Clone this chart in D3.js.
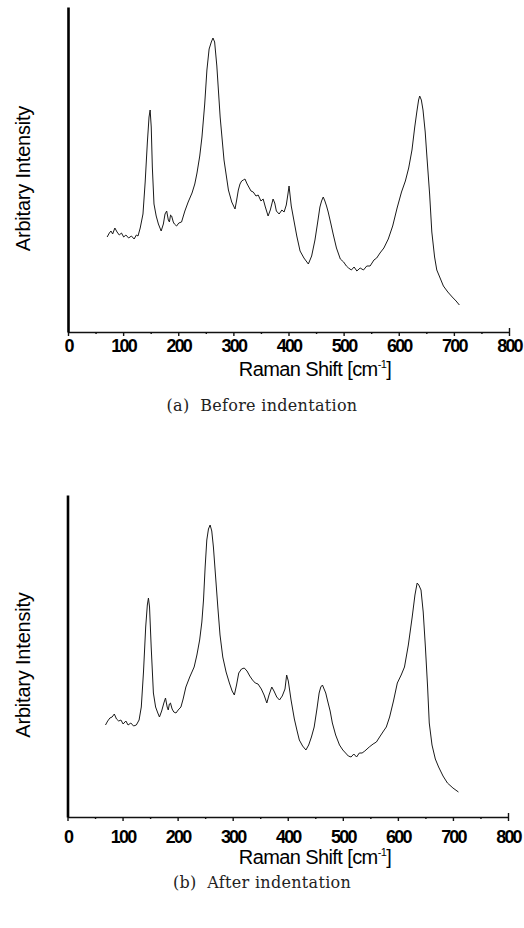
<!DOCTYPE html>
<html>
<head>
<meta charset="utf-8">
<script src="https://cdn.jsdelivr.net/npm/d3@7"></script>
<style>
  body { margin: 0; background: #fff; }
  svg { display: block; }
  .tick text { font-family: "Liberation Sans", Arial, sans-serif; }
</style>
</head>
<body>
<svg id="chart" width="524" height="928"></svg>
<script>
// Raman spectrum before indentation (shift in cm-1, arbitrary intensity)
const shiftA = [71,75,78,81,85,89,93,97,101,105,110,115,120,124,127,131,136,140,144,147,149,151,153,156,160,164,169,173,176,179,182,184,186,188,191,193,197,201,206,212,218,225,230,234,239,243,248,252,256,260,263,266,270,276,283,291,297,303,306,309,312,315,318,321,325,328,332,336,341,345,350,354,358,363,367,372,375,378,383,388,392,396,399,401,403,405,409,415,421,428,436,442,448,453,457,460,463,466,469,472,477,481,487,494,500,505,509,514,519,524,530,536,542,548,555,560,566,573,581,589,597,605,612,618,624,629,633,636,638,641,644,648,651,656,660,665,669,675,681,689,697,704,710]
const intensityA = [95,99,101,98,104,100,97,99,95,97,94,96,93,97,96,104,118,150,190,215,222,205,165,128,116,108,101,108,118,121,112,110,117,116,110,108,106,109,110,121,130,139,148,159,176,195,228,262,283,290,294,290,266,215,172,142,130,123,132,142,148,151,152,153,148,145,141,140,136,137,131,133,125,116,122,133,129,121,118,122,120,127,138,146,136,126,114,96,81,74,68,76,92,110,125,131,135,131,126,120,108,98,84,73,70,66,64,62,65,61,64,62,66,66,72,74,79,84,93,106,124,140,151,164,182,205,221,232,236,232,222,200,176,138,100,75,62,54,46,40,35,31,27]

// after indentation
const shiftB = [69,73,77,81,85,89,93,97,101,106,110,115,120,125,130,134,138,142,145,147,149,152,156,160,164,167,171,175,178,181,183,185,187,190,193,197,201,206,210,215,222,230,235,240,244,247,250,253,256,259,262,265,269,273,277,282,288,294,299,303,307,311,316,321,326,331,336,341,346,352,357,362,366,371,375,380,385,390,395,398,401,406,412,417,421,427,433,438,443,448,453,457,460,463,466,469,472,477,481,487,494,500,505,510,515,520,525,530,535,540,548,555,561,568,574,579,585,592,599,606,612,619,626,631,635,638,642,646,650,654,657,662,668,674,682,690,700,710]
const intensityB = [92,96,99,100,103,98,96,97,93,96,92,94,91,92,97,110,145,190,212,219,210,170,124,110,104,100,106,114,119,110,107,113,114,108,105,104,107,110,118,130,140,150,162,177,195,217,250,277,288,292,286,270,240,210,182,160,145,134,126,122,132,144,148,149,146,141,137,134,133,128,122,114,122,130,126,120,117,121,128,142,136,117,98,86,77,71,67,72,80,90,108,124,130,132,128,124,117,106,94,82,72,67,64,61,60,63,60,64,64,66,70,73,75,81,86,90,100,116,134,142,150,172,200,222,234,232,227,205,170,130,94,72,58,50,41,34,29,25]

const xTicks = [0,100,200,300,400,500,600,700,800]
const xMinorTicks = [50,150,250,350,450,550,650,750]
const captions = ["(a)  Before indentation", "(b)  After indentation"]
const xTitle = "Raman Shift [cm"
const yTitle = "Arbitary Intensity"

const svg = d3.select("#chart")

const panels = [
  {shift: shiftA, inten: intensityA, axisY: 332, topY: 7, x0: 68, x1: 509, labelY: 352, titleY: 376, capY: 411, caption: captions[0]},
  {shift: shiftB, inten: intensityB, axisY: 817, topY: 495, x0: 67.5, x1: 508, labelY: 843, titleY: 864, capY: 888, caption: captions[1]}
]

panels.forEach(p => {
  const x = d3.scaleLinear().domain([0, 800]).range([p.x0, p.x1])
  const y = d3.scaleLinear().domain([0, p.axisY - p.topY]).range([p.axisY, p.topY])

  const g = svg.append("g")

  // x axis with major + minor ticks
  const xa = g.append("g")
      .attr("transform", `translate(0,${p.axisY})`)
      .call(d3.axisBottom(x).tickValues(xTicks).tickSize(4).tickSizeOuter(0).tickPadding(3))
  xa.select(".domain").attr("stroke", "#111").attr("stroke-width", 1.4)
  xa.selectAll(".tick line").attr("stroke", "#111").attr("stroke-width", 1.4)
  xa.selectAll(".tick text")
      .attr("fill", "#000")
      .style("font-size", "18px")
      .style("font-weight", "bold")
      .style("letter-spacing", "-1.8px")
      .attr("y", null).attr("dy", null)
      .attr("transform", `translate(0,${p.labelY - p.axisY})`)

  const xm = g.append("g")
      .attr("transform", `translate(0,${p.axisY})`)
      .call(d3.axisBottom(x).tickValues(xMinorTicks).tickSize(2).tickFormat(""))
  xm.select(".domain").remove()
  xm.selectAll(".tick line").attr("stroke", "#111").attr("stroke-width", 1.4)

  // little upturn at the right end
  const xe = g.append("g")
      .attr("transform", `translate(0,${p.axisY})`)
      .call(d3.axisTop(x).tickValues([800]).tickSize(4).tickFormat(""))
  xe.select(".domain").remove()
  xe.selectAll(".tick line").attr("stroke", "#111").attr("stroke-width", 1.4)

  // y axis, no ticks
  const ya = g.append("g")
      .attr("transform", `translate(${p.x0},0)`)
      .call(d3.axisLeft(y).tickValues([]).tickSizeOuter(0))
  ya.select(".domain").attr("stroke", "#000").attr("stroke-width", 2.6)

  // spectrum
  const pts = p.shift.map((s, i) => [s, p.inten[i]])
  g.append("path")
      .datum(pts)
      .attr("fill", "none")
      .attr("stroke", "#1a1a1a")
      .attr("stroke-width", 1)
      .attr("stroke-linejoin", "round")
      .attr("d", d3.line().x(d => x(d[0])).y(d => y(d[1])))

  // x title with superscript
  const xt = g.append("text")
      .attr("x", 315)
      .attr("y", p.titleY)
      .attr("text-anchor", "middle")
      .style("font-family", "Liberation Sans, Arial, sans-serif")
      .style("font-size", "20px")
      .style("letter-spacing", "-0.6px")
      .attr("fill", "#000")
  xt.append("tspan").text(xTitle)
  xt.append("tspan").attr("dy", -8).style("font-size", "11px").text("-1")
  xt.append("tspan").attr("dy", 8).text("]")

  // y title
  g.append("text")
      .attr("transform", `translate(30,${(p.topY + p.axisY) / 2 + 9}) rotate(-90)`)
      .attr("text-anchor", "middle")
      .style("font-family", "Liberation Sans, Arial, sans-serif")
      .style("font-size", "20px")
      .style("letter-spacing", "-0.2px")
      .attr("fill", "#000")
      .text(yTitle)

  // caption
  g.append("text")
      .attr("x", 262)
      .attr("y", p.capY)
      .attr("text-anchor", "middle")
      .style("font-family", "DejaVu Serif, serif")
      .style("font-size", "16px")
      .style("letter-spacing", "0.3px")
      .attr("fill", "#222")
      .attr("xml:space", "preserve")
      .style("white-space", "pre")
      .text(p.caption)
})
</script>
</body>
</html>
